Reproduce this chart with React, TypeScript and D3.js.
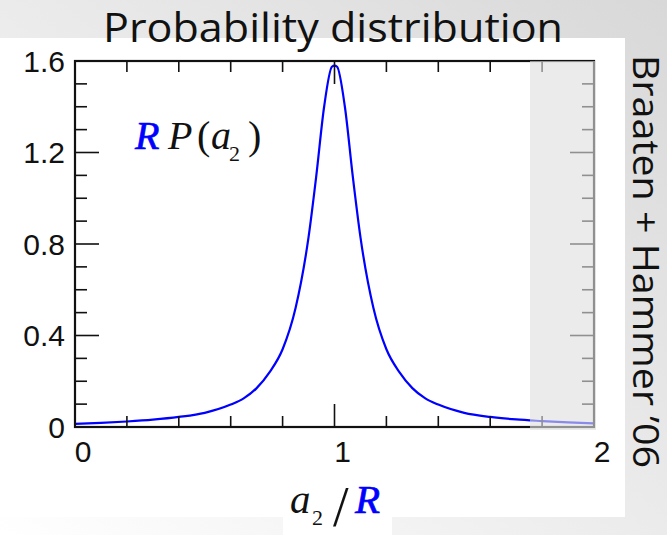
import React from "react";
import * as d3 from "d3";

// Scaled distribution R·P(a2) versus a2/R
const ratio = [0, 0.1, 0.2, 0.3, 0.4, 0.5, 0.6, 0.65, 0.7, 0.75, 0.8, 0.85, 0.9, 0.93, 0.96, 0.99, 1.0, 1.01, 1.04, 1.07, 1.1, 1.15, 1.2, 1.25, 1.3, 1.35, 1.4, 1.5, 1.6, 1.7, 1.8, 1.9, 2.0];
const prob = [0.014, 0.018, 0.024, 0.032, 0.044, 0.062, 0.098, 0.125, 0.17, 0.24, 0.34, 0.52, 0.83, 1.1, 1.4, 1.575, 1.58, 1.575, 1.4, 1.1, 0.83, 0.52, 0.34, 0.24, 0.17, 0.125, 0.098, 0.062, 0.044, 0.033, 0.026, 0.02, 0.016];

const xTickValues = [0, 1, 2];
const xTickLabels = ["0", "1", "2"];
const yTickValues = [0, 0.4, 0.8, 1.2, 1.6];
const yTickLabels = ["0", "0.4", "0.8", "1.2", "1.6"];

const title = "Probability distribution";
const citation = "Braaten + Hammer \u201906";

const W = 667;
const H = 535;
const BLUE = "#0000ff";

export default function App() {
  const x = d3.scaleLinear().domain([0, 2]).range([75, 594]);
  const y = d3.scaleLinear().domain([0, 1.6]).range([427, 61]);

  const points: [number, number][] = ratio.map((r, i) => [r, prob[i]]);
  const line = d3
    .line<[number, number]>()
    .x((d) => x(d[0]))
    .y((d) => y(d[1]))
    .curve(d3.curveMonotoneX);

  const xMinor = d3.range(0, 2.0001, 0.2);
  const yMinor = d3.range(0, 1.6001, 0.1);
  const isMajorX = (v: number) => xTickValues.some((t) => Math.abs(t - v) < 1e-6);
  const isMajorY = (v: number) => yTickValues.some((t) => Math.abs(t - v) < 1e-6);

  const [x0, x1] = x.range();
  const [yb, yt] = y.range();

  return (
    <svg
      width={W}
      height={H}
      viewBox={`0 0 ${W} ${H}`}
      style={{ position: "absolute", left: 0, top: 0, display: "block" }}
    >
      <defs>
        <linearGradient id="slideBg" x1="1" y1="0" x2="0" y2="1">
          <stop offset="0" stopColor="#d8d8d8" />
          <stop offset="0.55" stopColor="#ededed" />
          <stop offset="1" stopColor="#ffffff" />
        </linearGradient>
      </defs>

      {/* slide background and white panels */}
      <rect x={0} y={0} width={W} height={H} fill="url(#slideBg)" />
      <rect x={0} y={38} width={625} height={479} fill="#ffffff" />
      <rect x={283} y={480} width={109} height={55} fill="#ffffff" />

      {/* title */}
      <text
        x={103}
        y={41.5}
        fontFamily="'Open Sans', 'Noto Sans', sans-serif"
        fontSize={41}
        textLength={460}
        lengthAdjust="spacingAndGlyphs"
        fill="#111"
      >
        {title}
      </text>

      {/* curve */}
      <path d={line(points) ?? ""} fill="none" stroke={BLUE} strokeWidth={2.2} />

      {/* ticks on all four sides */}
      <g stroke="#111" strokeWidth={1.6}>
        {xMinor.map((v, i) => {
          const len = isMajorX(v) ? 23 : 11;
          return (
            <g key={`xt${i}`}>
              <line x1={x(v)} x2={x(v)} y1={yb} y2={yb - len} />
              <line x1={x(v)} x2={x(v)} y1={yt} y2={yt + len} />
            </g>
          );
        })}
        {yMinor.map((v, i) => {
          const len = isMajorY(v) ? 24 : 12;
          return (
            <g key={`yt${i}`}>
              <line x1={x0} x2={x0 + len} y1={y(v)} y2={y(v)} />
              <line x1={x1} x2={x1 - len} y1={y(v)} y2={y(v)} />
            </g>
          );
        })}
      </g>

      {/* frame */}
      <rect
        x={x0}
        y={yt}
        width={x1 - x0}
        height={yb - yt}
        fill="none"
        stroke="#111"
        strokeWidth={2.2}
      />

      {/* tick labels */}
      <g fontFamily="'Liberation Sans', Arial, sans-serif" fontSize={30} fill="#111">
        {yTickValues.map((v, i) => (
          <text key={`yl${i}`} x={65} y={y(v) + 10.7} textAnchor="end">
            {yTickLabels[i]}
          </text>
        ))}
        {xTickValues.map((v, i) => (
          <text key={`xl${i}`} x={x(v) + 8} y={461.7} textAnchor="middle">
            {xTickLabels[i]}
          </text>
        ))}
      </g>

      {/* in-plot label R P(a2) */}
      <g fontFamily="'Liberation Serif', 'Times New Roman', serif" fontStyle="italic" fontSize={40}>
        <text x={135} y={149.3} fill={BLUE} stroke={BLUE} strokeWidth={0.7}>R</text>
        <text x={168} y={149.3} fill="#111">P</text>
        <text x={197} y={149.3} fill="#111" fontStyle="normal">(</text>
        <text x={211} y={149.3} fill="#111">a</text>
        <text x={229} y={160.5} fill="#111" fontStyle="normal" fontSize={22}>2</text>
        <text x={248} y={149.3} fill="#111" fontStyle="normal">)</text>
      </g>

      {/* axis title a2 / R */}
      <g fontFamily="'Liberation Serif', 'Times New Roman', serif" fill="#111">
        <text x={290} y={512.7} fontStyle="italic" fontSize={41}>a</text>
        <text x={312} y={525} fontSize={22}>2</text>
        <text x={333} y={525.5} fontSize={56}>/</text>
        <text x={355} y={513.3} fontStyle="italic" fontSize={41} fill={BLUE} stroke={BLUE} strokeWidth={0.7}>R</text>
      </g>

      {/* translucent band over the right edge of the plot */}
      <rect x={530} y={yt} width={66} height={369} fill="#dedede" opacity={0.62} />

      {/* citation */}
      <text
        transform="translate(633,55) rotate(90)"
        fontFamily="'Open Sans', 'Noto Sans', sans-serif"
        fontSize={37}
        textLength={413}
        lengthAdjust="spacingAndGlyphs"
        fill="#111"
      >
        {citation}
      </text>
    </svg>
  );
}
